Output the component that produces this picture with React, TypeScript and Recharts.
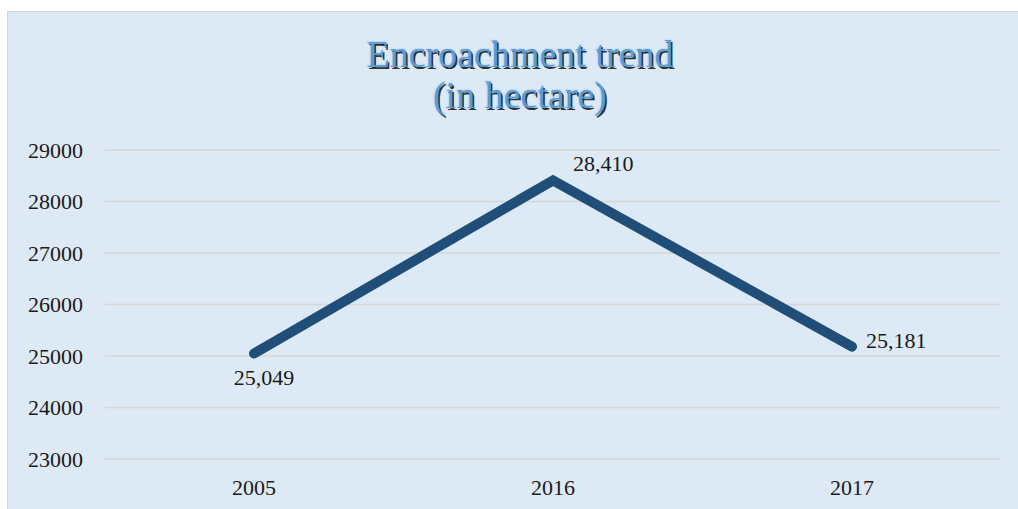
import { LineChart, Line, XAxis, YAxis, CartesianGrid, LabelList } from "recharts";

const years = ["2005", "2016", "2017"];
const hectares = [25049, 28410, 25181];
const yTicks = [23000, 24000, 25000, 26000, 27000, 28000, 29000];

const data = years.map((year, i) => ({ year, value: hectares[i] }));

// where each value label sits next to its point
const labelSpots = [
  { dx: 10, dy: 32, anchor: "middle" },
  { dx: 20, dy: -9, anchor: "start" },
  { dx: 14, dy: 1, anchor: "start" },
];

const serif = '"Liberation Serif", "Times New Roman", serif';

function ValueLabel(props: any) {
  const { x, y, value, index } = props;
  const spot = labelSpots[index] ?? labelSpots[0];
  return (
    <text
      x={x + spot.dx}
      y={y + spot.dy}
      textAnchor={spot.anchor}
      fontFamily={serif}
      fontSize={22}
      fill="#1a1a1a"
    >
      {Number(value).toLocaleString("en-US")}
    </text>
  );
}

export default function App() {
  return (
    <div
      style={{
        position: "fixed",
        left: 7,
        top: 11,
        width: 1011,
        height: 498,
        boxSizing: "border-box",
        borderLeft: "1px solid #d4d4d4",
        borderTop: "1px solid #d4d4d4",
        background: "#dde9f5",
        overflow: "hidden",
      }}
    >
      <div
        style={{
          position: "absolute",
          left: 0,
          top: 22,
          width: 1024,
          textAlign: "center",
          fontFamily: serif,
          fontSize: 38,
          lineHeight: "41px",
          color: "#5b9bd5",
          textShadow: "1.5px 1.5px 0.5px rgba(0,0,0,0.8), 0 0 2px rgba(91,155,213,0.6)",
        }}
      >
        Encroachment trend
        <br />
        (in hectare)
      </div>
      <LineChart
        width={1010}
        height={497}
        data={data}
        margin={{ top: 138, right: 17, bottom: 0, left: 0 }}
      >
        <CartesianGrid stroke="#d6d6d6" strokeWidth={1.5} vertical={false} />
        <XAxis
          dataKey="year"
          axisLine={false}
          tickLine={false}
          tickSize={0}
          tickMargin={20}
          height={50}
          padding={{ left: 149, right: 149 }}
          tick={{ fontFamily: serif, fontSize: 22, fill: "#1a1a1a" }}
        />
        <YAxis
          domain={[23000, 29000]}
          ticks={yTicks}
          axisLine={false}
          tickLine={false}
          tickSize={0}
          tickMargin={22}
          width={97}
          tick={{ fontFamily: serif, fontSize: 22, fill: "#1a1a1a" }}
        />
        <Line
          type="linear"
          dataKey="value"
          stroke="#1f4e79"
          strokeWidth={10}
          strokeLinecap="round"
          strokeLinejoin="miter"
          dot={false}
          activeDot={false}
          isAnimationActive={false}
        >
          <LabelList dataKey="value" content={<ValueLabel />} />
        </Line>
      </LineChart>
    </div>
  );
}
